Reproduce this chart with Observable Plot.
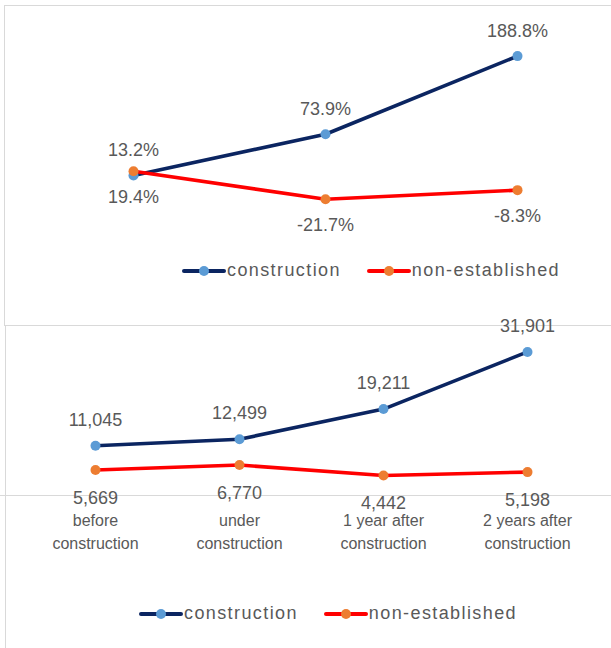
<!DOCTYPE html>
<html>
<head>
<meta charset="utf-8">
<script src="https://cdn.jsdelivr.net/npm/d3@7"></script>
<script src="https://cdn.jsdelivr.net/npm/@observablehq/plot@0.6"></script>
<style>
  html, body { margin: 0; padding: 0; background: #fff; }
  body { width: 611px; height: 648px; position: relative; overflow: hidden; font-family: "Liberation Sans", Arial, sans-serif; }
  .panel { position: absolute; box-sizing: border-box; }
  #p1 { left: 4px; top: 5px; width: 700px; height: 321px; border: 1.5px solid #d9d9d9; }
  #p2 { left: 5px; top: 325px; width: 700px; height: 400px; border-left: 1.5px solid #d9d9d9; border-top: 1.5px solid #d9d9d9; }
  .chart { position: absolute; left: 0; top: 0; }
  .legend { position: absolute; display: flex; align-items: center; color: #595959; font-size: 18px; letter-spacing: 1.4px; white-space: nowrap; }
  .legend .item { display: flex; align-items: center; }
  .legend .item:first-child { margin-right: 26px; }
  .legend svg { display: block; margin-right: 1px; }
</style>
</head>
<body>
<div id="p1" class="panel"></div>
<div id="p2" class="panel"></div>
<div id="chart1" class="chart"></div>
<div id="chart2" class="chart"></div>
<div id="legend1" class="legend" style="left:182px; top:260px;"></div>
<div id="legend2" class="legend" style="left:139px; top:603px;"></div>
<script>
// ---- data ----
const changeStages = ["under construction", "1 year after construction", "2 years after construction"];
const changeConstruction = [13.2, 73.9, 188.8];
const changeNonEstablished = [19.4, -21.7, -8.3];

const stages = ["before construction", "under construction", "1 year after construction", "2 years after construction"];
const stageLabels = [["before", "construction"], ["under", "construction"], ["1 year after", "construction"], ["2 years after", "construction"]];
const countConstruction = [11045, 12499, 19211, 31901];
const countNonEstablished = [5669, 6770, 4442, 5198];

const seriesNames = ["construction", "non-established"];
const lineColors = {"construction": "#0b2561", "non-established": "#ff0000"};
const dotColors = {"construction": "#5b9bd5", "non-established": "#ed7d31"};
const textColor = "#595959";

// ---- tables ----
const topData = [];
changeStages.forEach((s, i) => {
  topData.push({stage: s, series: "construction", value: changeConstruction[i]});
  topData.push({stage: s, series: "non-established", value: changeNonEstablished[i]});
});
const botData = [];
stages.forEach((s, i) => {
  botData.push({stage: s, series: "construction", value: countConstruction[i]});
  botData.push({stage: s, series: "non-established", value: countNonEstablished[i]});
});

const fmtPct = d => d.toFixed(1) + "%";
const fmtNum = d3.format(",");

function seriesMarks(data, fmt, aboveDy, belowDy) {
  const marks = [];
  for (const name of seriesNames) {
    const sd = data.filter(d => d.series === name);
    marks.push(Plot.line(sd, {x: "stage", y: "value", stroke: lineColors[name], strokeWidth: 3.6, strokeLinecap: "round"}));
  }
  for (const name of seriesNames) {
    const sd = data.filter(d => d.series === name);
    marks.push(Plot.dot(sd, {x: "stage", y: "value", r: 5, fill: dotColors[name], stroke: "none"}));
  }
  for (const name of seriesNames) {
    const sd = data.filter(d => d.series === name);
    marks.push(Plot.text(sd, {
      x: "stage", y: "value", text: d => fmt(d.value),
      dy: name === "construction" ? aboveDy : belowDy,
      fill: textColor, fontSize: 18, fontFamily: "Liberation Sans, Arial, sans-serif",
      style: "letter-spacing:0.4px"
    }));
  }
  return marks;
}

// ---- top chart: percentage change ----
const chart1 = Plot.plot({
  width: 611, height: 250, margin: 0,
  style: {background: "transparent", overflow: "visible"},
  x: {type: "point", domain: changeStages, range: [133, 517], padding: 0, axis: null},
  y: {domain: [0, 200], range: [184, 48], axis: null},
  marks: seriesMarks(topData, fmtPct, -25, 26)
});
document.getElementById("chart1").appendChild(chart1);

// ---- bottom chart: counts ----
const chart2 = Plot.plot({
  width: 611, height: 560, margin: 0,
  style: {background: "transparent", overflow: "visible"},
  x: {type: "band", domain: stages, range: [22, 600], padding: 0, axis: null},
  y: {domain: [0, 35000], range: [495, 337.5], axis: null},
  marks: [
    Plot.ruleY([0], {stroke: "#d9d9d9", strokeWidth: 1.2}),
    ...seriesMarks(botData, fmtNum, -26, 28),
    Plot.text(stages, {
      x: d => d, y: () => 0,
      text: d => stageLabels[stages.indexOf(d)].join("\n"),
      lineHeight: 1.4, lineAnchor: "top", dy: 15,
      fill: textColor, fontSize: 16, fontFamily: "Liberation Sans, Arial, sans-serif",
      style: "letter-spacing:0.4px"
    })
  ]
});
document.getElementById("chart2").appendChild(chart2);

// ---- legends ----
function makeLegend(el) {
  for (const name of seriesNames) {
    const item = document.createElement("div");
    item.className = "item";
    item.innerHTML = `<svg width="44" height="14"><line x1="2" y1="7" x2="42" y2="7" stroke="${lineColors[name]}" stroke-width="4" stroke-linecap="round"/><circle cx="22" cy="7" r="5" fill="${dotColors[name]}"/></svg><span>${name}</span>`;
    el.appendChild(item);
  }
}
makeLegend(document.getElementById("legend1"));
makeLegend(document.getElementById("legend2"));
</script>
</body>
</html>
